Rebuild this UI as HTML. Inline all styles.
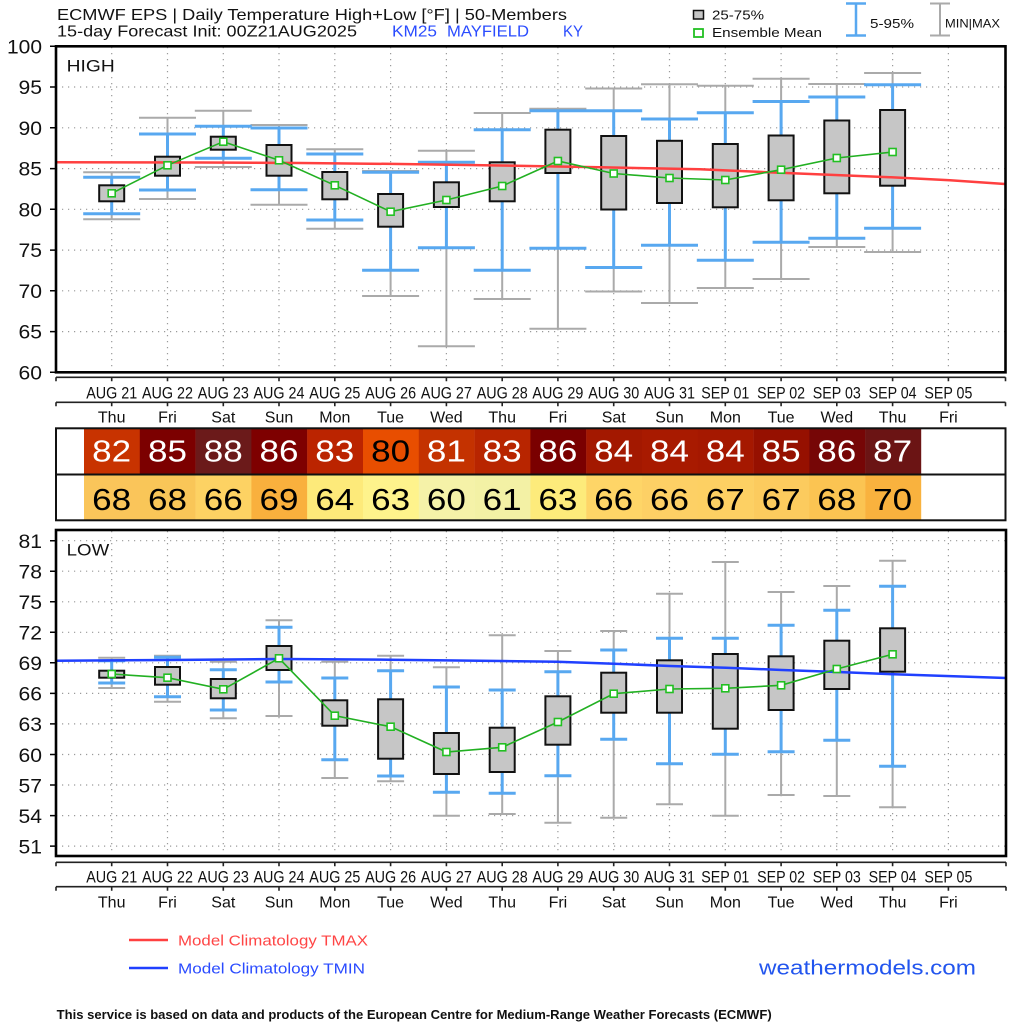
<!DOCTYPE html>
<html><head><meta charset="utf-8"><style>
html,body{margin:0;padding:0;background:#fff;}
svg{display:block;}
text{font-family:"Liberation Sans",sans-serif;}
</style></head><body>
<svg width="1024" height="1024" viewBox="0 0 1024 1024" xmlns="http://www.w3.org/2000/svg">
<rect width="1024" height="1024" fill="#fff"/>

<!-- Title -->
<text x="57" y="20" font-size="16" fill="#111" textLength="510" lengthAdjust="spacingAndGlyphs">ECMWF EPS | Daily Temperature High+Low [°F] | 50-Members</text>
<text x="57" y="36.7" font-size="16" fill="#111" textLength="300" lengthAdjust="spacingAndGlyphs">15-day Forecast Init: 00Z21AUG2025</text>
<text x="392" y="36.7" font-size="16" fill="#2a4cff" textLength="45" lengthAdjust="spacingAndGlyphs">KM25</text>
<text x="447" y="36.7" font-size="16" fill="#2a4cff" textLength="82" lengthAdjust="spacingAndGlyphs">MAYFIELD</text>
<text x="563" y="36.7" font-size="16" fill="#2a4cff" textLength="20" lengthAdjust="spacingAndGlyphs">KY</text>

<!-- Top legend -->
<rect x="693.5" y="10.5" width="10" height="8.5" fill="#c6c6c6" stroke="#111" stroke-width="1.5"/>
<text x="712" y="19.5" font-size="13" fill="#111" textLength="52" lengthAdjust="spacingAndGlyphs">25-75%</text>
<rect x="694" y="29" width="9" height="8" fill="#fff" stroke="#22c022" stroke-width="1.8"/>
<text x="712" y="37" font-size="13" fill="#111" textLength="110" lengthAdjust="spacingAndGlyphs">Ensemble Mean</text>
<path d="M856 3.5V35.5M846 3.5H866M846 35.5H866" stroke="#58a8f0" stroke-width="2.5" fill="none"/>
<text x="870" y="28" font-size="13" fill="#111" textLength="44" lengthAdjust="spacingAndGlyphs">5-95%</text>
<path d="M940 3.5V35.5M930 3.5H950M930 35.5H950" stroke="#aaa" stroke-width="2" fill="none"/>
<text x="945" y="27.5" font-size="12" fill="#111" textLength="55" lengthAdjust="spacingAndGlyphs">MIN|MAX</text>

<!-- ============ HIGH PANEL ============ -->
<g stroke="#9a9a9a" stroke-width="1.2" stroke-dasharray="1.2 4.8" fill="none">
<path d="M56 87H1005M56 127.8H1005M56 168.6H1005M56 209.3H1005M56 250.1H1005M56 290.8H1005M56 331.6H1005"/>
<path d="M111.7 47V372M167.5 47V372M223.3 47V372M279 47V372M334.8 47V372M390.6 47V372M446.4 47V372M502.2 47V372M557.9 47V372M613.7 47V372M669.5 47V372M725.3 47V372M781.1 47V372M836.8 47V372M892.6 47V372M948.4 47V372"/>
</g>

<path fill="none" stroke="#aaa" stroke-width="2" d="M111.7 172.3V219.3M83.2 172.3H140.2M83.2 219.3H140.2
M167.5 117.7V199M139 117.7H196M139 199H196
M223.3 110.7V167M194.8 110.7H251.8M194.8 167H251.8
M279 125V204.7M250.5 125H307.5M250.5 204.7H307.5
M334.8 149.3V228.7M306.3 149.3H363.3M306.3 228.7H363.3
M390.6 171V296M362.1 171H419.1M362.1 296H419.1
M446.4 150.7V346.3M417.9 150.7H474.9M417.9 346.3H474.9
M502.2 113V299M473.7 113H530.7M473.7 299H530.7
M557.9 108.7V328.7M529.4 108.7H586.4M529.4 328.7H586.4
M613.7 88.5V291.5M585.2 88.5H642.2M585.2 291.5H642.2
M669.5 84.2V303M641 84.2H698M641 303H698
M725.3 85.7V288M696.8 85.7H753.8M696.8 288H753.8
M781.1 78.7V279M752.6 78.7H809.6M752.6 279H809.6
M836.8 84V247M808.3 84H865.3M808.3 247H865.3
M892.6 73V252M864.1 73H921.1M864.1 252H921.1"/>

<path fill="none" stroke="#58a8f0" stroke-width="3" d="M111.7 177.3V213.7M83.2 177.3H140.2M83.2 213.7H140.2
M167.5 134V190M139 134H196M139 190H196
M223.3 126.3V158.3M194.8 126.3H251.8M194.8 158.3H251.8
M279 128V189.7M250.5 128H307.5M250.5 189.7H307.5
M334.8 154V220M306.3 154H363.3M306.3 220H363.3
M390.6 172.3V270.3M362.1 172.3H419.1M362.1 270.3H419.1
M446.4 162.3V247.7M417.9 162.3H474.9M417.9 247.7H474.9
M502.2 129.7V270.3M473.7 129.7H530.7M473.7 270.3H530.7
M557.9 110.7V248.3M529.4 110.7H586.4M529.4 248.3H586.4
M613.7 110.7V267.5M585.2 110.7H642.2M585.2 267.5H642.2
M669.5 119V245.2M641 119H698M641 245.2H698
M725.3 112.7V260.3M696.8 112.7H753.8M696.8 260.3H753.8
M781.1 101.5V242.3M752.6 101.5H809.6M752.6 242.3H809.6
M836.8 97V238.3M808.3 97H865.3M808.3 238.3H865.3
M892.6 84.7V228.3M864.1 84.7H921.1M864.1 228.3H921.1"/>

<g fill="#c6c6c6" stroke="#111" stroke-width="2">
<rect x="99.2" y="185.3" width="25" height="16"/>
<rect x="155" y="156.7" width="25" height="19"/>
<rect x="210.8" y="136.7" width="25" height="13"/>
<rect x="266.5" y="145" width="25" height="30.7"/>
<rect x="322.3" y="172" width="25" height="27.3"/>
<rect x="378.1" y="194" width="25" height="32.7"/>
<rect x="433.9" y="182.3" width="25" height="24.7"/>
<rect x="489.7" y="162.3" width="25" height="39"/>
<rect x="545.4" y="129.7" width="25" height="43.3"/>
<rect x="601.2" y="136" width="25" height="73.5"/>
<rect x="657" y="140.8" width="25" height="62.2"/>
<rect x="712.8" y="144" width="25" height="63.3"/>
<rect x="768.6" y="135.5" width="25" height="64.8"/>
<rect x="824.3" y="120.5" width="25" height="72.8"/>
<rect x="880.1" y="110" width="25" height="75.7"/>
</g>

<!-- TMAX climatology -->
<path d="M56 162.3L200 162.5L300 163L400 164L500 165.5L600 167.3L700 169.3L780 172.8L891 177.3L950 180.3L1005 184" fill="none" stroke="#ff4040" stroke-width="2.5"/>

<polyline fill="none" stroke="#22b022" stroke-width="1.6" points="111.7,193.3 167.5,165.3 223.3,141.7 279,160.3 334.8,185.3 390.6,211.7 446.4,200 502.2,186 557.9,161 613.7,173.5 669.5,178 725.3,180 781.1,169.7 836.8,158 892.6,152"/>
<g fill="#fff" stroke="#22c022" stroke-width="1.6">
<rect x="108.2" y="189.8" width="7" height="7"/>
<rect x="164" y="161.8" width="7" height="7"/>
<rect x="219.8" y="138.2" width="7" height="7"/>
<rect x="275.5" y="156.8" width="7" height="7"/>
<rect x="331.3" y="181.8" width="7" height="7"/>
<rect x="387.1" y="208.2" width="7" height="7"/>
<rect x="442.9" y="196.5" width="7" height="7"/>
<rect x="498.7" y="182.5" width="7" height="7"/>
<rect x="554.4" y="157.5" width="7" height="7"/>
<rect x="610.2" y="170" width="7" height="7"/>
<rect x="666" y="174.5" width="7" height="7"/>
<rect x="721.8" y="176.5" width="7" height="7"/>
<rect x="777.6" y="166.2" width="7" height="7"/>
<rect x="833.3" y="154.5" width="7" height="7"/>
<rect x="889.1" y="148.5" width="7" height="7"/>
</g>

<rect x="56" y="46.3" width="949.5" height="326" fill="none" stroke="#000" stroke-width="2.6"/>
<path d="M50 46.3H56M50 87H56M50 127.8H56M50 168.6H56M50 209.3H56M50 250.1H56M50 290.8H56M50 331.6H56M50 372.3H56" stroke="#000" stroke-width="1.5"/>
<g font-size="19" fill="#111" text-anchor="end">
<text x="42" y="53.3" textLength="35" lengthAdjust="spacingAndGlyphs">100</text>
<text x="42" y="94" textLength="23.5" lengthAdjust="spacingAndGlyphs">95</text>
<text x="42" y="134.8" textLength="23.5" lengthAdjust="spacingAndGlyphs">90</text>
<text x="42" y="175.6" textLength="23.5" lengthAdjust="spacingAndGlyphs">85</text>
<text x="42" y="216.3" textLength="23.5" lengthAdjust="spacingAndGlyphs">80</text>
<text x="42" y="257.1" textLength="23.5" lengthAdjust="spacingAndGlyphs">75</text>
<text x="42" y="297.8" textLength="23.5" lengthAdjust="spacingAndGlyphs">70</text>
<text x="42" y="338.6" textLength="23.5" lengthAdjust="spacingAndGlyphs">65</text>
<text x="42" y="379.3" textLength="23.5" lengthAdjust="spacingAndGlyphs">60</text>
</g>
<text x="66.7" y="71.7" font-size="17" fill="#111" textLength="48" lengthAdjust="spacingAndGlyphs">HIGH</text>

<!-- Top x axes -->
<path fill="none" stroke="#222" stroke-width="1.6" d="M56 377.3H1005.5M56 377.3v4M111.7 377.3v4M167.5 377.3v4M223.3 377.3v4M279 377.3v4M334.8 377.3v4M390.6 377.3v4M446.4 377.3v4M502.2 377.3v4M557.9 377.3v4M613.7 377.3v4M669.5 377.3v4M725.3 377.3v4M781.1 377.3v4M836.8 377.3v4M892.6 377.3v4M948.4 377.3v4M1005.5 377.3v4
M56 402.3H1005.5M56 402.3v4M111.7 402.3v4M167.5 402.3v4M223.3 402.3v4M279 402.3v4M334.8 402.3v4M390.6 402.3v4M446.4 402.3v4M502.2 402.3v4M557.9 402.3v4M613.7 402.3v4M669.5 402.3v4M725.3 402.3v4M781.1 402.3v4M836.8 402.3v4M892.6 402.3v4M948.4 402.3v4M1005.5 402.3v4"/>
<g font-size="17" fill="#111" text-anchor="middle" lengthAdjust="spacingAndGlyphs">
<text x="111.7" y="398.3" textLength="51" lengthAdjust="spacingAndGlyphs">AUG 21</text>
<text x="167.5" y="398.3" textLength="51" lengthAdjust="spacingAndGlyphs">AUG 22</text>
<text x="223.3" y="398.3" textLength="51" lengthAdjust="spacingAndGlyphs">AUG 23</text>
<text x="279" y="398.3" textLength="51" lengthAdjust="spacingAndGlyphs">AUG 24</text>
<text x="334.8" y="398.3" textLength="51" lengthAdjust="spacingAndGlyphs">AUG 25</text>
<text x="390.6" y="398.3" textLength="51" lengthAdjust="spacingAndGlyphs">AUG 26</text>
<text x="446.4" y="398.3" textLength="51" lengthAdjust="spacingAndGlyphs">AUG 27</text>
<text x="502.2" y="398.3" textLength="51" lengthAdjust="spacingAndGlyphs">AUG 28</text>
<text x="557.9" y="398.3" textLength="51" lengthAdjust="spacingAndGlyphs">AUG 29</text>
<text x="613.7" y="398.3" textLength="51" lengthAdjust="spacingAndGlyphs">AUG 30</text>
<text x="669.5" y="398.3" textLength="51" lengthAdjust="spacingAndGlyphs">AUG 31</text>
<text x="725.3" y="398.3" textLength="48" lengthAdjust="spacingAndGlyphs">SEP 01</text>
<text x="781.1" y="398.3" textLength="48" lengthAdjust="spacingAndGlyphs">SEP 02</text>
<text x="836.8" y="398.3" textLength="48" lengthAdjust="spacingAndGlyphs">SEP 03</text>
<text x="892.6" y="398.3" textLength="48" lengthAdjust="spacingAndGlyphs">SEP 04</text>
<text x="948.4" y="398.3" textLength="48" lengthAdjust="spacingAndGlyphs">SEP 05</text>
</g>
<g font-size="16" fill="#111" text-anchor="middle">
<text x="111.7" y="422.5">Thu</text><text x="167.5" y="422.5">Fri</text><text x="223.3" y="422.5">Sat</text><text x="279" y="422.5">Sun</text><text x="334.8" y="422.5">Mon</text><text x="390.6" y="422.5">Tue</text><text x="446.4" y="422.5">Wed</text><text x="502.2" y="422.5">Thu</text><text x="557.9" y="422.5">Fri</text><text x="613.7" y="422.5">Sat</text><text x="669.5" y="422.5">Sun</text><text x="725.3" y="422.5">Mon</text><text x="781.1" y="422.5">Tue</text><text x="836.8" y="422.5">Wed</text><text x="892.6" y="422.5">Thu</text><text x="948.4" y="422.5">Fri</text>
</g>

<!-- ============ TABLE ============ -->
<g>
<rect x="84" y="428" width="56" height="47" fill="#c83300"/>
<rect x="139.8" y="428" width="56" height="47" fill="#7c0000"/>
<rect x="195.6" y="428" width="56" height="47" fill="#6b1a1a"/>
<rect x="251.4" y="428" width="56" height="47" fill="#7e0000"/>
<rect x="307.2" y="428" width="56" height="47" fill="#bb2400"/>
<rect x="363" y="428" width="56" height="47" fill="#e84e00"/>
<rect x="418.8" y="428" width="56" height="47" fill="#c43200"/>
<rect x="474.6" y="428" width="56" height="47" fill="#b82500"/>
<rect x="530.4" y="428" width="56" height="47" fill="#7a0000"/>
<rect x="586.2" y="428" width="56" height="47" fill="#a31800"/>
<rect x="642" y="428" width="56" height="47" fill="#a81a00"/>
<rect x="697.8" y="428" width="56" height="47" fill="#a51800"/>
<rect x="753.6" y="428" width="56" height="47" fill="#961000"/>
<rect x="809.4" y="428" width="56" height="47" fill="#760606"/>
<rect x="865.2" y="428" width="56" height="47" fill="#6b1414"/>

<rect x="84" y="475" width="56" height="46" fill="#fac55a"/>
<rect x="139.8" y="475" width="56" height="46" fill="#f9c658"/>
<rect x="195.6" y="475" width="56" height="46" fill="#fdd263"/>
<rect x="251.4" y="475" width="56" height="46" fill="#f9b03d"/>
<rect x="307.2" y="475" width="56" height="46" fill="#fdea7a"/>
<rect x="363" y="475" width="56" height="46" fill="#fef38c"/>
<rect x="418.8" y="475" width="56" height="46" fill="#f5f2a8"/>
<rect x="474.6" y="475" width="56" height="46" fill="#f3f1a5"/>
<rect x="530.4" y="475" width="56" height="46" fill="#fdeb7b"/>
<rect x="586.2" y="475" width="56" height="46" fill="#fed567"/>
<rect x="642" y="475" width="56" height="46" fill="#fdd065"/>
<rect x="697.8" y="475" width="56" height="46" fill="#fdd063"/>
<rect x="753.6" y="475" width="56" height="46" fill="#fccb5e"/>
<rect x="809.4" y="475" width="56" height="46" fill="#fbc452"/>
<rect x="865.2" y="475" width="56" height="46" fill="#f9b23e"/>
</g>
<rect x="56" y="428.3" width="949.5" height="92" fill="none" stroke="#111" stroke-width="2"/>
<path d="M56 474.5H1005.5" stroke="#111" stroke-width="2"/>
<g font-size="31" text-anchor="middle">
<text x="111.7" y="461.7" fill="#fff" textLength="39" lengthAdjust="spacingAndGlyphs">82</text>
<text x="167.5" y="461.7" fill="#fff" textLength="39" lengthAdjust="spacingAndGlyphs">85</text>
<text x="223.3" y="461.7" fill="#fff" textLength="39" lengthAdjust="spacingAndGlyphs">88</text>
<text x="279" y="461.7" fill="#fff" textLength="39" lengthAdjust="spacingAndGlyphs">86</text>
<text x="334.8" y="461.7" fill="#fff" textLength="39" lengthAdjust="spacingAndGlyphs">83</text>
<text x="390.6" y="461.7" fill="#000" textLength="39" lengthAdjust="spacingAndGlyphs">80</text>
<text x="446.4" y="461.7" fill="#fff" textLength="39" lengthAdjust="spacingAndGlyphs">81</text>
<text x="502.2" y="461.7" fill="#fff" textLength="39" lengthAdjust="spacingAndGlyphs">83</text>
<text x="557.9" y="461.7" fill="#fff" textLength="39" lengthAdjust="spacingAndGlyphs">86</text>
<text x="613.7" y="461.7" fill="#fff" textLength="39" lengthAdjust="spacingAndGlyphs">84</text>
<text x="669.5" y="461.7" fill="#fff" textLength="39" lengthAdjust="spacingAndGlyphs">84</text>
<text x="725.3" y="461.7" fill="#fff" textLength="39" lengthAdjust="spacingAndGlyphs">84</text>
<text x="781.1" y="461.7" fill="#fff" textLength="39" lengthAdjust="spacingAndGlyphs">85</text>
<text x="836.8" y="461.7" fill="#fff" textLength="39" lengthAdjust="spacingAndGlyphs">86</text>
<text x="892.6" y="461.7" fill="#fff" textLength="39" lengthAdjust="spacingAndGlyphs">87</text>
</g>
<g font-size="31" text-anchor="middle" fill="#000">
<text x="111.7" y="510" textLength="39" lengthAdjust="spacingAndGlyphs">68</text>
<text x="167.5" y="510" textLength="39" lengthAdjust="spacingAndGlyphs">68</text>
<text x="223.3" y="510" textLength="39" lengthAdjust="spacingAndGlyphs">66</text>
<text x="279" y="510" textLength="39" lengthAdjust="spacingAndGlyphs">69</text>
<text x="334.8" y="510" textLength="39" lengthAdjust="spacingAndGlyphs">64</text>
<text x="390.6" y="510" textLength="39" lengthAdjust="spacingAndGlyphs">63</text>
<text x="446.4" y="510" textLength="39" lengthAdjust="spacingAndGlyphs">60</text>
<text x="502.2" y="510" textLength="39" lengthAdjust="spacingAndGlyphs">61</text>
<text x="557.9" y="510" textLength="39" lengthAdjust="spacingAndGlyphs">63</text>
<text x="613.7" y="510" textLength="39" lengthAdjust="spacingAndGlyphs">66</text>
<text x="669.5" y="510" textLength="39" lengthAdjust="spacingAndGlyphs">66</text>
<text x="725.3" y="510" textLength="39" lengthAdjust="spacingAndGlyphs">67</text>
<text x="781.1" y="510" textLength="39" lengthAdjust="spacingAndGlyphs">67</text>
<text x="836.8" y="510" textLength="39" lengthAdjust="spacingAndGlyphs">68</text>
<text x="892.6" y="510" textLength="39" lengthAdjust="spacingAndGlyphs">70</text>
</g>

<!-- ============ LOW PANEL ============ -->
<g stroke="#9a9a9a" stroke-width="1.2" stroke-dasharray="1.2 4.8" fill="none">
<path d="M56 540.7H1006M56 571.2H1006M56 601.8H1006M56 632.3H1006M56 662.8H1006M56 693.4H1006M56 723.9H1006M56 754.5H1006M56 785H1006M56 815.6H1006M56 846.1H1006"/>
<path d="M111.7 531V855M167.5 531V855M223.3 531V855M279 531V855M334.8 531V855M390.6 531V855M446.4 531V855M502.2 531V855M557.9 531V855M613.7 531V855M669.5 531V855M725.3 531V855M781.1 531V855M836.8 531V855M892.6 531V855M948.4 531V855"/>
</g>

<path fill="none" stroke="#aaa" stroke-width="2" d="M111.7 657.7V688M98.2 657.7H125.2M98.2 688H125.2
M167.5 655.7V701.7M154 655.7H181M154 701.7H181
M223.3 661.7V718.3M209.8 661.7H236.8M209.8 718.3H236.8
M279 620.3V716M265.5 620.3H292.5M265.5 716H292.5
M334.8 661.7V778M321.3 661.7H348.3M321.3 778H348.3
M390.6 655.7V781.3M377.1 655.7H404.1M377.1 781.3H404.1
M446.4 667.3V815.7M432.9 667.3H459.9M432.9 815.7H459.9
M502.2 635.3V814M488.7 635.3H515.7M488.7 814H515.7
M557.9 651V822.7M544.4 651H571.4M544.4 822.7H571.4
M613.7 631V817.7M600.2 631H627.2M600.2 817.7H627.2
M669.5 593.7V804.3M656 593.7H683M656 804.3H683
M725.3 562V815.7M711.8 562H738.8M711.8 815.7H738.8
M781.1 592V795M767.6 592H794.6M767.6 795H794.6
M836.8 586V796M823.3 586H850.3M823.3 796H850.3
M892.6 560.7V807.3M879.1 560.7H906.1M879.1 807.3H906.1"/>

<path fill="none" stroke="#58a8f0" stroke-width="3" d="M111.7 660.7V683M98.2 660.7H125.2M98.2 683H125.2
M167.5 657.3V696.7M154 657.3H181M154 696.7H181
M223.3 669.7V710M209.8 669.7H236.8M209.8 710H236.8
M279 627.3V682M265.5 627.3H292.5M265.5 682H292.5
M334.8 678V759.7M321.3 678H348.3M321.3 759.7H348.3
M390.6 670.7V776M377.1 670.7H404.1M377.1 776H404.1
M446.4 687V792.3M432.9 687H459.9M432.9 792.3H459.9
M502.2 690V793.3M488.7 690H515.7M488.7 793.3H515.7
M557.9 671.7V775.7M544.4 671.7H571.4M544.4 775.7H571.4
M613.7 650V739.3M600.2 650H627.2M600.2 739.3H627.2
M669.5 638.3V763.7M656 638.3H683M656 763.7H683
M725.3 638.3V754.3M711.8 638.3H738.8M711.8 754.3H738.8
M781.1 625.3V751.7M767.6 625.3H794.6M767.6 751.7H794.6
M836.8 610.3V740.3M823.3 610.3H850.3M823.3 740.3H850.3
M892.6 586.3V766.3M879.1 586.3H906.1M879.1 766.3H906.1"/>

<g fill="#c6c6c6" stroke="#111" stroke-width="2">
<rect x="99.2" y="670.7" width="25" height="7"/>
<rect x="155" y="667" width="25" height="17.7"/>
<rect x="210.8" y="679" width="25" height="19.3"/>
<rect x="266.5" y="646" width="25" height="24"/>
<rect x="322.3" y="700.3" width="25" height="25.4"/>
<rect x="378.1" y="699.3" width="25" height="59.4"/>
<rect x="433.9" y="733" width="25" height="41"/>
<rect x="489.7" y="727.7" width="25" height="44.3"/>
<rect x="545.4" y="696.3" width="25" height="48.4"/>
<rect x="601.2" y="672.7" width="25" height="40"/>
<rect x="657" y="660.3" width="25" height="52.4"/>
<rect x="712.8" y="654" width="25" height="74.7"/>
<rect x="768.6" y="656.3" width="25" height="53.7"/>
<rect x="824.3" y="640.7" width="25" height="48.3"/>
<rect x="880.1" y="628.3" width="25" height="43.4"/>
</g>

<!-- TMIN climatology -->
<path d="M56 660.7L170 660L279 659L390 659.7L502 661L557 661.7L614 663.7L670 666L726 667.7L782 670L838 672L894 674.3L1006 678" fill="none" stroke="#2040ff" stroke-width="2.5"/>

<polyline fill="none" stroke="#22b022" stroke-width="1.6" points="111.7,674 167.5,677.7 223.3,689.3 279,658.3 334.8,715.7 390.6,726.7 446.4,752 502.2,747.3 557.9,722 613.7,693.7 669.5,689 725.3,688.3 781.1,685.3 836.8,669 892.6,654.3"/>
<g fill="#fff" stroke="#22c022" stroke-width="1.6">
<rect x="108.2" y="670.5" width="7" height="7"/>
<rect x="164" y="674.2" width="7" height="7"/>
<rect x="219.8" y="685.8" width="7" height="7"/>
<rect x="275.5" y="654.8" width="7" height="7"/>
<rect x="331.3" y="712.2" width="7" height="7"/>
<rect x="387.1" y="723.2" width="7" height="7"/>
<rect x="442.9" y="748.5" width="7" height="7"/>
<rect x="498.7" y="743.8" width="7" height="7"/>
<rect x="554.4" y="718.5" width="7" height="7"/>
<rect x="610.2" y="690.2" width="7" height="7"/>
<rect x="666" y="685.5" width="7" height="7"/>
<rect x="721.8" y="684.8" width="7" height="7"/>
<rect x="777.6" y="681.8" width="7" height="7"/>
<rect x="833.3" y="665.5" width="7" height="7"/>
<rect x="889.1" y="650.8" width="7" height="7"/>
</g>

<rect x="56" y="530" width="950" height="326" fill="none" stroke="#000" stroke-width="2.6"/>
<path d="M50 540.7H56M50 571.2H56M50 601.8H56M50 632.3H56M50 662.8H56M50 693.4H56M50 723.9H56M50 754.5H56M50 785H56M50 815.6H56M50 846.1H56" stroke="#000" stroke-width="1.5"/>
<g font-size="19" fill="#111" text-anchor="end">
<text x="42" y="548" textLength="23.5" lengthAdjust="spacingAndGlyphs">81</text>
<text x="42" y="578.5" textLength="23.5" lengthAdjust="spacingAndGlyphs">78</text>
<text x="42" y="609.1" textLength="23.5" lengthAdjust="spacingAndGlyphs">75</text>
<text x="42" y="639.6" textLength="23.5" lengthAdjust="spacingAndGlyphs">72</text>
<text x="42" y="670.1" textLength="23.5" lengthAdjust="spacingAndGlyphs">69</text>
<text x="42" y="700.7" textLength="23.5" lengthAdjust="spacingAndGlyphs">66</text>
<text x="42" y="731.2" textLength="23.5" lengthAdjust="spacingAndGlyphs">63</text>
<text x="42" y="761.8" textLength="23.5" lengthAdjust="spacingAndGlyphs">60</text>
<text x="42" y="792.3" textLength="23.5" lengthAdjust="spacingAndGlyphs">57</text>
<text x="42" y="822.9" textLength="23.5" lengthAdjust="spacingAndGlyphs">54</text>
<text x="42" y="853.4" textLength="23.5" lengthAdjust="spacingAndGlyphs">51</text>
</g>
<text x="66.7" y="555.7" font-size="17" fill="#111" textLength="42.5" lengthAdjust="spacingAndGlyphs">LOW</text>

<!-- Bottom x axes -->
<path fill="none" stroke="#222" stroke-width="1.6" d="M56 862.3H1006M56 862.3v4M111.7 862.3v4M167.5 862.3v4M223.3 862.3v4M279 862.3v4M334.8 862.3v4M390.6 862.3v4M446.4 862.3v4M502.2 862.3v4M557.9 862.3v4M613.7 862.3v4M669.5 862.3v4M725.3 862.3v4M781.1 862.3v4M836.8 862.3v4M892.6 862.3v4M948.4 862.3v4M1006 862.3v4
M56 886.7H1006M56 886.7v4M111.7 886.7v4M167.5 886.7v4M223.3 886.7v4M279 886.7v4M334.8 886.7v4M390.6 886.7v4M446.4 886.7v4M502.2 886.7v4M557.9 886.7v4M613.7 886.7v4M669.5 886.7v4M725.3 886.7v4M781.1 886.7v4M836.8 886.7v4M892.6 886.7v4M948.4 886.7v4M1006 886.7v4"/>
<g font-size="17" fill="#111" text-anchor="middle">
<text x="111.7" y="882.5" textLength="51" lengthAdjust="spacingAndGlyphs">AUG 21</text>
<text x="167.5" y="882.5" textLength="51" lengthAdjust="spacingAndGlyphs">AUG 22</text>
<text x="223.3" y="882.5" textLength="51" lengthAdjust="spacingAndGlyphs">AUG 23</text>
<text x="279" y="882.5" textLength="51" lengthAdjust="spacingAndGlyphs">AUG 24</text>
<text x="334.8" y="882.5" textLength="51" lengthAdjust="spacingAndGlyphs">AUG 25</text>
<text x="390.6" y="882.5" textLength="51" lengthAdjust="spacingAndGlyphs">AUG 26</text>
<text x="446.4" y="882.5" textLength="51" lengthAdjust="spacingAndGlyphs">AUG 27</text>
<text x="502.2" y="882.5" textLength="51" lengthAdjust="spacingAndGlyphs">AUG 28</text>
<text x="557.9" y="882.5" textLength="51" lengthAdjust="spacingAndGlyphs">AUG 29</text>
<text x="613.7" y="882.5" textLength="51" lengthAdjust="spacingAndGlyphs">AUG 30</text>
<text x="669.5" y="882.5" textLength="51" lengthAdjust="spacingAndGlyphs">AUG 31</text>
<text x="725.3" y="882.5" textLength="48" lengthAdjust="spacingAndGlyphs">SEP 01</text>
<text x="781.1" y="882.5" textLength="48" lengthAdjust="spacingAndGlyphs">SEP 02</text>
<text x="836.8" y="882.5" textLength="48" lengthAdjust="spacingAndGlyphs">SEP 03</text>
<text x="892.6" y="882.5" textLength="48" lengthAdjust="spacingAndGlyphs">SEP 04</text>
<text x="948.4" y="882.5" textLength="48" lengthAdjust="spacingAndGlyphs">SEP 05</text>
</g>
<g font-size="16" fill="#111" text-anchor="middle">
<text x="111.7" y="907.3">Thu</text><text x="167.5" y="907.3">Fri</text><text x="223.3" y="907.3">Sat</text><text x="279" y="907.3">Sun</text><text x="334.8" y="907.3">Mon</text><text x="390.6" y="907.3">Tue</text><text x="446.4" y="907.3">Wed</text><text x="502.2" y="907.3">Thu</text><text x="557.9" y="907.3">Fri</text><text x="613.7" y="907.3">Sat</text><text x="669.5" y="907.3">Sun</text><text x="725.3" y="907.3">Mon</text><text x="781.1" y="907.3">Tue</text><text x="836.8" y="907.3">Wed</text><text x="892.6" y="907.3">Thu</text><text x="948.4" y="907.3">Fri</text>
</g>

<!-- Bottom legend -->
<path d="M129 940H168" stroke="#ff4040" stroke-width="2.5"/>
<text x="178" y="945.5" font-size="15" fill="#ff4545" textLength="190" lengthAdjust="spacingAndGlyphs">Model Climatology TMAX</text>
<path d="M129 968H168" stroke="#2040ff" stroke-width="2.5"/>
<text x="178" y="973.5" font-size="15" fill="#2a4bff" textLength="187" lengthAdjust="spacingAndGlyphs">Model Climatology TMIN</text>

<text x="759" y="974.3" font-size="20" fill="#2255ee" textLength="217" lengthAdjust="spacingAndGlyphs">weathermodels.com</text>

<text x="56.7" y="1019" font-size="12.5" font-weight="bold" fill="#111" textLength="715" lengthAdjust="spacingAndGlyphs">This service is based on data and products of the European Centre for Medium-Range Weather Forecasts (ECMWF)</text>
</svg>
</body></html>
